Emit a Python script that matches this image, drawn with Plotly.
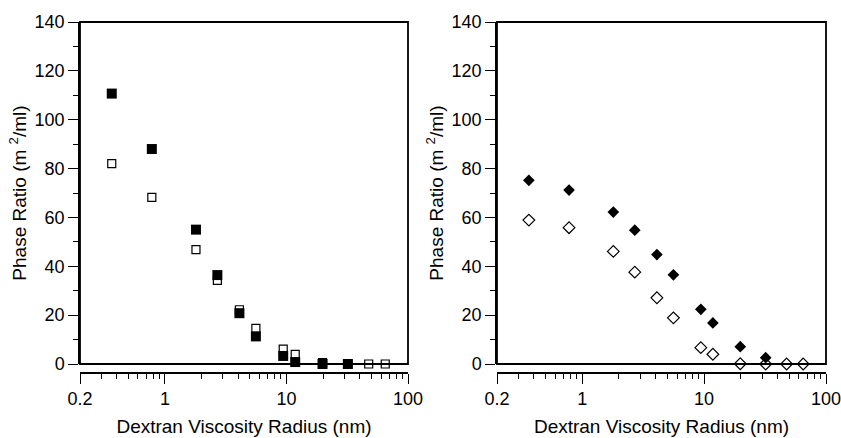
import plotly.graph_objects as go

# Dextran viscosity radius (nm)
radius = [0.365, 0.78, 1.8, 2.7, 4.1, 5.6, 9.4, 11.8, 19.8, 32.0, 47.5, 65.0]

# left panel (squares)
left_filled = [110.7, 88.0, 55.0, 36.4, 20.8, 11.3, 3.3, 0.8, 0.0, 0.0]
left_open = [82.0, 68.2, 46.8, 34.2, 22.2, 14.6, 6.1, 3.9, 0.6, 0.0, 0.0, 0.0]

# right panel (diamonds)
right_filled = [75.2, 71.2, 62.2, 54.8, 44.8, 36.5, 22.4, 16.8, 7.1, 2.6]
right_open = [58.9, 55.8, 46.1, 37.6, 27.1, 18.9, 6.7, 4.0, 0.1, 0.0, 0.0, 0.0]

x_ticks = [0.2, 1, 10, 100]
x_ticktext = ["0.2", "1", "10", "100"]
x_minor = [0.3, 0.4, 0.5, 0.6, 0.7, 0.8, 0.9,
           2, 3, 4, 5, 6, 7, 8, 9,
           20, 30, 40, 50, 60, 70, 80, 90]

FONT = "Liberation Sans, Arial, sans-serif"
W, H = 841, 438

fig = go.Figure()

fig.add_trace(go.Scatter(x=radius[:len(left_open)], y=left_open, mode="markers",
                         marker=dict(symbol="square-open", size=8, color="black",
                                     line=dict(width=1.2, color="black")),
                         cliponaxis=False, xaxis="x", yaxis="y"))
fig.add_trace(go.Scatter(x=radius[:len(left_filled)], y=left_filled, mode="markers",
                         marker=dict(symbol="square", size=10, color="black"),
                         cliponaxis=False, xaxis="x", yaxis="y"))
fig.add_trace(go.Scatter(x=radius[:len(right_open)], y=right_open, mode="markers",
                         marker=dict(symbol="diamond-open", size=9, color="black",
                                     line=dict(width=1.2, color="black")),
                         cliponaxis=False, xaxis="x2", yaxis="y2"))
fig.add_trace(go.Scatter(x=radius[:len(right_filled)], y=right_filled, mode="markers",
                         marker=dict(symbol="diamond", size=9, color="black"),
                         cliponaxis=False, xaxis="x2", yaxis="y2"))

y_bottom = 1 - 364 / H
y_top = 1 - 22 / H
x_axis_pos = 1 - 373 / H

xcommon = dict(type="log", range=[-0.69897, 2], anchor="free", position=x_axis_pos,
               automargin=False, ticklabeloverflow="allow",
               showline=True, linecolor="black", linewidth=1.5,
               ticks="outside", ticklen=10, tickwidth=1.2, tickcolor="black",
               tickvals=x_ticks, ticktext=x_ticktext, showgrid=False, zeroline=False,
               minor=dict(tickvals=x_minor, ticks="outside", ticklen=5, tickwidth=1,
                          tickcolor="black", showgrid=False),
               tickfont=dict(size=18, color="black", family=FONT),
               title=dict(text="Dextran Viscosity Radius (nm)", standoff=10,
                          font=dict(size=19, color="black", family=FONT)))
ycommon = dict(range=[0, 140], domain=[y_bottom, y_top], automargin=False,
               showline=True, linecolor="black", linewidth=1.5,
               ticks="outside", ticklen=10, tickwidth=1.2, tickcolor="black",
               tickvals=[0, 20, 40, 60, 80, 100, 120, 140], showgrid=False, zeroline=False,
               minor=dict(tickvals=[10, 30, 50, 70, 90, 110, 130], ticks="outside",
                          ticklen=5, tickwidth=1, tickcolor="black", showgrid=False),
               tickfont=dict(size=18, color="black", family=FONT),
               title=dict(text="Phase Ratio (m <sup>2</sup>/ml)", standoff=3,
                          font=dict(size=19, color="black", family=FONT)))

fig.update_layout(
    width=W, height=H,
    margin=dict(l=0, r=0, t=0, b=0),
    paper_bgcolor="white", plot_bgcolor="white",
    showlegend=False,
    xaxis=dict(domain=[80 / W, 408 / W], **xcommon),
    yaxis=dict(anchor="x", **ycommon),
    xaxis2=dict(domain=[497 / W, 826 / W], **xcommon),
    yaxis2=dict(anchor="x2", **ycommon),
)

for xr, yr in [("x domain", "y domain"), ("x2 domain", "y2 domain")]:
    fig.add_shape(type="rect", xref=xr, yref=yr, x0=0, x1=1, y0=0, y1=1,
                  line=dict(color="black", width=1.8), layer="above")

# drop the default page margin so the figure fills the window exactly
fig.write_html("out.html", config={"displayModeBar": False},
               post_script="document.body.style.margin='0';document.body.style.overflow='hidden';")
